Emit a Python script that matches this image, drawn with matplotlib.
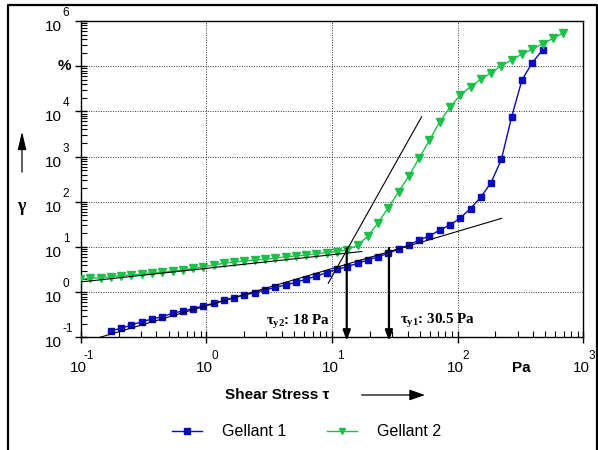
import matplotlib
matplotlib.use("Agg")
import matplotlib.pyplot as plt
from matplotlib.lines import Line2D
from matplotlib.patches import FancyArrowPatch
from matplotlib.ticker import LogLocator, NullFormatter

plt.rcParams["font.family"] = ["Liberation Sans", "DejaVu Sans"]
plt.rcParams["mathtext.fontset"] = "custom"
plt.rcParams["mathtext.rm"] = "Liberation Serif:bold"
plt.rcParams["mathtext.it"] = "Liberation Serif:bold"
plt.rcParams["mathtext.bf"] = "Liberation Serif:bold"

# Shear stress sweep (Pa), shared by both samples
shear_stress = [0.0987, 0.1192, 0.1439, 0.1737, 0.2097, 0.2532, 0.3056, 0.3690,
                0.4454, 0.5378, 0.6493, 0.7837, 0.9463, 1.142, 1.379, 1.665,
                2.010, 2.427, 2.930, 3.537, 4.270, 5.155, 6.223, 7.513,
                9.071, 10.95, 13.22, 15.96, 19.27, 23.26, 28.08, 33.90,
                40.93, 49.41, 59.65, 72.02, 86.94, 104.95, 126.7, 153.0,
                184.7, 223.0, 269.2, 325.0, 392.4, 473.7, 571.9, 690.2]

# Deformation gamma (%)
gellant1_tau = shear_stress[3:46]
gellant1_gamma = [0.140, 0.158, 0.187, 0.221, 0.254, 0.286, 0.340, 0.382, 0.430,
                  0.493, 0.566, 0.653, 0.753, 0.863, 0.971, 1.114, 1.279, 1.438,
                  1.651, 1.923, 2.275, 2.692, 3.200, 3.656, 4.349, 5.143, 6.086,
                  7.244, 9.02, 11.05, 14.26, 17.49, 23.7, 30.6, 43.8, 71.0,
                  127.6, 267, 873, 7650, 49700, 120000, 229000]

gellant2_tau = shear_stress
gellant2_gamma = [1.923, 2.023, 2.086, 2.196, 2.311, 2.393, 2.519, 2.692, 2.748,
                  2.937, 3.090, 3.373, 3.656, 3.990, 4.345, 4.645, 4.887, 5.143,
                  5.33, 5.61, 6.09, 6.31, 6.64, 7.10, 7.46, 7.85, 8.57, 11.05,
                  17.05, 34.4, 74.0, 167, 372, 931, 2297, 5930, 12360, 23100,
                  35300, 51500, 72100, 103000, 137700, 187000, 238000, 311000,
                  416000, 537000]

# Tangent constructions for the yield point
tangent_g2_flat_x = [0.0987, 17.3]
tangent_g2_flat_y = [1.675, 7.93]
tangent_g2_steep_x = [9.33, 51.7]
tangent_g2_steep_y = [1.569, 7650]
tangent_g1_x = [0.1424, 223.9]
tangent_g1_y = [0.1, 43.0]

# Yield-point markers (x position, top of arrow) and their labels
yield_x = [13.1, 28.4]
yield_top = [9.3, 9.5]
yield_labels = [r"$\tau_{y2}$: 18 Pa", r"$\tau_{y1}$: 30.5 Pa"]

x_exponents = [-1, 0, 1, 2, 3]
y_exponents = [-1, 0, 1, 2, 3, 4, 5, 6]

BLUE = "#0A0ABE"
GREEN = "#1CC04A"

W, H = 598, 450
fig = plt.figure(figsize=(W / 100, H / 100), dpi=100)
ax = fig.add_axes([80.7 / W, 1 - 337.3 / H, (583.3 - 80.7) / W, (337.3 - 21.1) / H])

ax.set_xscale("log")
ax.set_yscale("log")
ax.set_xlim(1e-1, 1e3)
ax.set_ylim(1e-1, 1e6)

ax.plot(gellant1_tau, gellant1_gamma, color=BLUE, lw=1.0, marker="s",
        markersize=5, markeredgecolor=BLUE, label="Gellant 1", zorder=3)
ax.plot(gellant2_tau, gellant2_gamma, color=GREEN, lw=1.0, marker="v",
        markersize=5.3, markeredgecolor=GREEN, label="Gellant 2", zorder=3)

for tx, ty in [(tangent_g2_flat_x, tangent_g2_flat_y),
               (tangent_g2_steep_x, tangent_g2_steep_y),
               (tangent_g1_x, tangent_g1_y)]:
    ax.plot(tx, ty, color="black", lw=0.8, zorder=4)

# Yield arrows down to the stress axis
for xv, top in zip(yield_x, yield_top):
    ax.annotate("", xy=(xv, -0.011), xycoords=("data", "axes fraction"),
                xytext=(xv, top), textcoords="data",
                arrowprops=dict(arrowstyle="-|>,head_length=0.6,head_width=0.22",
                                color="black", lw=1.6, shrinkA=0, shrinkB=0),
                annotation_clip=False, zorder=5)

ax.annotate(yield_labels[0], xy=(yield_x[0], 0), xycoords=("data", "axes fraction"),
            xytext=(-17, 15), textcoords="offset pixels", ha="right", va="center",
            fontsize=10.8, fontfamily="Liberation Serif", fontweight="bold")
ax.annotate(yield_labels[1], xy=(yield_x[1], 0), xycoords=("data", "axes fraction"),
            xytext=(11, 16), textcoords="offset pixels", ha="left", va="center",
            fontsize=10.8, fontfamily="Liberation Serif", fontweight="bold")

# Axes styling
for s in ax.spines.values():
    s.set_linewidth(1.0)
    s.set_color("black")
ax.grid(True, which="major", color="#333333", linestyle=(0, (1, 1.5)), linewidth=0.7)
ax.xaxis.set_major_locator(LogLocator(base=10, numticks=20))
ax.yaxis.set_major_locator(LogLocator(base=10, numticks=20))
ax.xaxis.set_minor_locator(LogLocator(base=10, subs=range(2, 10), numticks=20))
ax.yaxis.set_minor_locator(LogLocator(base=10, subs=range(2, 10), numticks=20))
for axis in (ax.xaxis, ax.yaxis):
    axis.set_major_formatter(NullFormatter())
    axis.set_minor_formatter(NullFormatter())
ax.tick_params(which="major", direction="inout", length=9, width=1.0, color="black")
ax.tick_params(which="minor", direction="in", length=4, width=0.8, color="black")

# Power-of-ten tick labels
for k in x_exponents:
    ax.annotate("10", xy=(10.0 ** k, 0), xycoords=("data", "axes fraction"),
                xytext=(-2, -31), textcoords="offset pixels", ha="center",
                va="center", fontsize=11, annotation_clip=False)
    ax.annotate(f"{k}", xy=(10.0 ** k, 0), xycoords=("data", "axes fraction"),
                xytext=(8, -19), textcoords="offset pixels", ha="center",
                va="center", fontsize=8.5, annotation_clip=False)
for k in y_exponents:
    if k == 5:
        ax.annotate("%", xy=(0, 10.0 ** k), xycoords=("axes fraction", "data"),
                    xytext=(-10, 0), textcoords="offset pixels", ha="right",
                    va="center", fontsize=11, fontweight="bold", annotation_clip=False)
        continue
    ax.annotate("10", xy=(0, 10.0 ** k), xycoords=("axes fraction", "data"),
                xytext=(-19, -6), textcoords="offset pixels", ha="right",
                va="center", fontsize=11, annotation_clip=False)
    ax.annotate(f"{k}", xy=(0, 10.0 ** k), xycoords=("axes fraction", "data"),
                xytext=(-18, 8), textcoords="offset pixels", ha="left",
                va="center", fontsize=8.5, annotation_clip=False)

# Axis titles with direction arrows
fig.text(21 / W, 1 - 207 / H, "γ", fontsize=13, fontweight="bold",
         fontfamily="Liberation Serif", ha="center", va="center")
fig.add_artist(FancyArrowPatch(
    (22 / W, 1 - 172 / H), (22 / W, 1 - 131.5 / H), transform=fig.transFigure,
    arrowstyle="-|>,head_length=1.1,head_width=0.26", mutation_scale=10,
    color="black", lw=0.9, shrinkA=0, shrinkB=0))
fig.text(225 / W, 1 - 395 / H, "Shear Stress τ", fontsize=11, fontweight="bold",
         ha="left", va="center")
fig.add_artist(FancyArrowPatch(
    (361.7 / W, 1 - 395 / H), (425 / W, 1 - 395 / H), transform=fig.transFigure,
    arrowstyle="-|>,head_length=0.95,head_width=0.33", mutation_scale=10,
    color="black", lw=0.9, shrinkA=0, shrinkB=0))
fig.text(521 / W, 1 - 368 / H, "Pa", fontsize=11, fontweight="bold",
         ha="center", va="center")

fig.legend(loc="center", bbox_to_anchor=(306.5 / W, 1 - 431.7 / H), ncol=2,
           frameon=False, fontsize=11.5, handlelength=1.9, handletextpad=1.25,
           columnspacing=2.5, markerscale=0.75)

# Outer frame (open at the bottom)
fig.add_artist(Line2D([7.5 / W, 7.5 / W, 597 / W, 597 / W], [0, 1 - 5 / H, 1 - 5 / H, 0],
                      transform=fig.transFigure, color="black", lw=1.6))

fig.savefig("out.png", dpi=100)
